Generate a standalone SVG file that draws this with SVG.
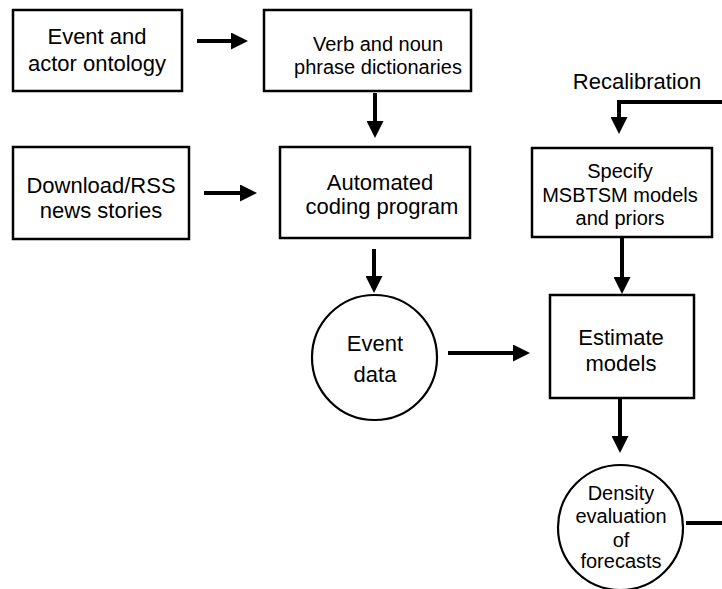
<svg xmlns="http://www.w3.org/2000/svg" width="722" height="589" viewBox="0 0 722 589">
<style>
.box{fill:#fff;stroke:#000;stroke-width:2.5}
.circ{fill:#fff;stroke:#000;stroke-width:2.2}
.t{font-family:"Liberation Sans",Arial,sans-serif;font-size:22px;fill:#000;text-anchor:middle}
.s{font-size:20px}
.c{fill:none;stroke:#000;stroke-width:4}
</style>
<defs>
<marker id="ah" markerUnits="userSpaceOnUse" markerWidth="17" markerHeight="17" viewBox="0 0 17 17" refX="7" refY="8.5" orient="auto">
<path d="M0,0 L17,8.5 L0,17 Z" fill="#000"/>
</marker>
</defs>
<rect width="722" height="589" fill="#fff"/>
<g id="connectors">
<line class="c" x1="197" y1="41" x2="238" y2="41" marker-end="url(#ah)"/>
<line class="c" x1="375" y1="93" x2="375" y2="128" marker-end="url(#ah)"/>
<line class="c" x1="204" y1="193" x2="247" y2="193" marker-end="url(#ah)"/>
<line class="c" x1="374" y1="249" x2="374" y2="283" marker-end="url(#ah)"/>
<line class="c" x1="448" y1="353" x2="520" y2="353" marker-end="url(#ah)"/>
<polyline class="c" points="722,102 619,102 619,124" marker-end="url(#ah)"/>
<line class="c" x1="622" y1="238" x2="622" y2="284" marker-end="url(#ah)"/>
<line class="c" x1="620" y1="398" x2="620" y2="443" marker-end="url(#ah)"/>
<line class="c" x1="686" y1="523" x2="722" y2="523"/>
</g>
<g id="ontology">
<rect class="box" x="13" y="10" width="169" height="81"/>
<text class="t" x="97" y="44">Event and</text>
<text class="t" x="97" y="71">actor ontology</text>
</g>
<g id="dictionaries">
<rect class="box" x="264" y="10" width="207" height="81"/>
<text class="t s" x="378" y="51">Verb and noun</text>
<text class="t s" x="378" y="74">phrase dictionaries</text>
</g>
<g id="download">
<rect class="box" x="13" y="147" width="176" height="92"/>
<text class="t" x="101" y="193">Download/RSS</text>
<text class="t" x="101" y="218">news stories</text>
</g>
<g id="coding">
<rect class="box" x="280" y="147" width="190" height="91"/>
<text class="t" x="380" y="190">Automated</text>
<text class="t" x="382" y="214">coding program</text>
</g>
<g id="recalibration">
<text class="t" x="637" y="89">Recalibration</text>
</g>
<g id="specify">
<rect class="box" x="532" y="148" width="180" height="89"/>
<text class="t s" x="620" y="178">Specify</text>
<text class="t s" x="620" y="202">MSBTSM models</text>
<text class="t s" x="620" y="225">and priors</text>
</g>
<g id="eventdata">
<circle class="circ" cx="374.5" cy="357.5" r="62.5"/>
<text class="t" x="375" y="351">Event</text>
<text class="t" x="375" y="382">data</text>
</g>
<g id="estimate">
<rect class="box" x="550" y="295" width="144" height="103"/>
<text class="t" x="621" y="345">Estimate</text>
<text class="t" x="621" y="371">models</text>
</g>
<g id="density">
<circle class="circ" cx="620.5" cy="527.5" r="62.5"/>
<text class="t s" x="621" y="500">Density</text>
<text class="t s" x="621" y="523">evaluation</text>
<text class="t s" x="621" y="547">of</text>
<text class="t s" x="621" y="568">forecasts</text>
</g>
</svg>
